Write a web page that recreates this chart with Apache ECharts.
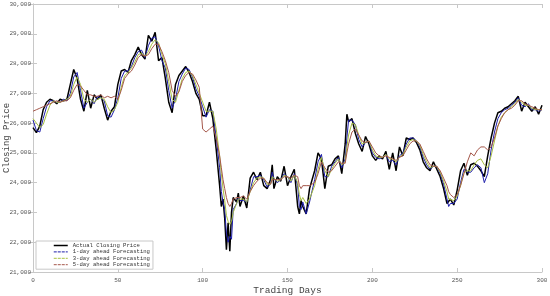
<!DOCTYPE html>
<html><head><meta charset="utf-8">
<script src="https://cdn.jsdelivr.net/npm/echarts@6/dist/echarts.min.js"></script>
<style>html,body{margin:0;padding:0;background:#fff}#c{width:550px;height:296px}</style>
</head><body><div id="c"></div>
<script>
const seriesNames = ['Actual Closing Price','1-day ahead Forecasting','3-day ahead Forecasting','5-day ahead Forecasting'];
const days = [0,2,4,6,8,10,12,14,16,18, 20,22,24,26,28,30,32,34,36,38, 40,42,44,46,48,50,52,54,56,58, 60,62,64,66,68,70,72,74,76,78, 80,82,84,86,88,90,92,94,96,98, 100,102,104,106,108,110,111,112,113,114, 115,116,117,118,120,121,122,124,126,128, 130,132,134,136,138,140,141,142,144,146, 148,150,152,154,156,157,158,159,161,163, 166,168,170,172,174,176,178,180,182,184, 185,186,188,190,192,194,196,198,200,202, 204,206,208,210,212,214,216,218,220,222, 224,226,228,230,232,234,236,238,240,242, 244,245,246,248,250,252,254,256,258,260, 262,264,266,268,270,272,274,276,278,280, 282,284,286,288,290,292,294,296,298,300];
const actual = [25850,25680,25900,26450,26700,26800,26750,26650,26800,26750, 26800,27300,27800,27500,26800,26400,27100,26500,26950,26800, 26950,26500,26100,26400,26550,27300,27750,27800,27700,28100, 28300,28550,28300,28150,28950,28750,29050,28100,28200,27500, 26700,26350,27300,27600,27750,27900,27700,27400,27000,26800, 26250,26250,26700,26150,25100,23900,23200,23450,22800,21750, 22650,21700,23000,23500,23350,23650,23200,23550,23150,24150, 24350,24100,24350,23900,23800,24100,24600,23800,24200,24050, 24550,23900,24200,24450,23200,22950,23400,23200,22950,23800, 24400,25000,24800,23800,24550,24600,24800,24900,24300,25300, 26300,26050,26150,25650,25300,25050,25550,25300,24900,24750, 24900,24800,25050,24450,25000,24400,25200,24900,25500,25450, 25500,25350,25100,24700,24500,24400,24700,24450,24200,23800, 23300,23250,23450,23250,23750,24400,24650,24250,24600,24650, 24550,24400,24200,24900,25500,26000,26350,26400,26500,26550, 26650,26750,26900,26400,26700,26550,26400,26550,26300,26600];
const oneDay = [26100,25750,25700,26150,26550,26750,26750,26700,26700,26800, 26750,27000,27550,27700,27100,26500,26700,26800,26650,26900, 26850,26750,26250,26200,26450,26850,27500,27750,27750,27900, 28200,28400,28450,28200,28600,28850,28900,28600,28100,27850, 27100,26500,26800,27400,27650,27850,27800,27550,27150,26900, 26550,26200,26450,26400,25500,24500,23700,23350,23100,22300, 22000,22200,22100,23100,23300,23500,23400,23400,23350,23750, 24200,24200,24250,24100,23850,23950,24350,24150,24000,24100, 24300,24200,24000,24300,23900,23200,23100,23350,22950,23350, 24100,24700,24950,24200,24200,24550,24700,24850,24500,24800, 25500,26100,26100,25950,25450,25200,25350,25400,25000,24850, 24800,24850,24950,24700,24750,24600,24900,25000,25300,25500, 25500,25400,25200,24850,24600,24450,24550,24550,24300,23950, 23450,23200,23300,23300,23450,24000,24450,24350,24350,24500, 24600,24500,24000,24300,25100,25700,26150,26350,26450,26500, 26600,26700,26850,26600,26550,26650,26450,26450,26400,26450];
const threeDay = [26150,26000,25850,25950,26300,26600,26750,26700,26700,26750, 26800,26900,27300,27550,27300,26800,26700,26800,26700,26800, 26850,26800,26550,26350,26450,26700,27200,27600,27700,27850, 28050,28300,28350,28250,28400,28650,28800,28700,28300,28000, 27400,26800,26700,27100,27500,27700,27750,27600,27300,27000, 26700,26400,26400,26400,25800,24900,24300,23800,23400,22900, 22700,22600,22700,23000,23300,23450,23400,23450,23350,23700, 24000,24150,24200,24150,23950,23950,24200,24200,24050,24100, 24250,24200,24050,24250,24000,23600,23400,23500,23300,23450, 23900,24450,24850,24400,24200,24450,24650,24800,24600,24700, 25200,25600,26000,25950,25600,25300,25350,25400,25100,24900, 24850,24850,24950,24800,24800,24700,24850,24950,25200,25400, 25450,25400,25250,24950,24700,24500,24550,24550,24350,24050, 23700,23450,23450,23400,23550,23900,24350,24400,24400,24600, 24750,24800,24600,24500,24900,25400,25900,26200,26350,26450, 26550,26650,26800,26700,26600,26600,26500,26450,26450,26450];
const fiveDay = [26400,26450,26500,26550,26600,26650,26700,26750,26700,26750, 26750,26850,27100,27300,27250,27100,26950,26950,26900,26900, 26950,26850,26900,26850,26900,26800,27100,27500,27650,27750, 27950,28200,28300,28250,28300,28500,28650,28650,28400,28100, 27700,27100,26900,27050,27400,27600,27700,27650,27450,27200, 25800,25700,25800,25900,25500,24900,24500,24100,23800,23500, 23300,23200,23300,23450,23500,23500,23500,23550,23450,23700, 23900,24050,24150,24150,24000,23950,24100,24150,24100,24100, 24200,24200,24150,24250,24200,23900,23800,23900,23900,23900, 24000,24300,24700,24500,24350,24400,24550,24700,24650,24650, 25000,25300,25700,25800,25600,25400,25350,25400,25200,25000, 24900,24850,24900,24850,24800,24750,24850,24900,25100,25300, 25400,25400,25300,25050,24800,24600,24550,24550,24400,24150, 23900,23700,23600,23500,23600,23900,24300,24700,25000,24900, 25100,25200,25200,25100,25200,25500,25900,26150,26350,26450, 26500,26600,26750,26750,26650,26600,26550,26500,26450,26450];
const colors = ['#000000','#1c1caa','#a8c040','#a5574a'];
const widths = [1.5,1,1,1];
const legendDash = ['solid',[3,1],[3,1],[3,1]];
const allVals = [actual, oneDay, threeDay, fiveDay];

const chart = echarts.init(document.getElementById('c'), null, {renderer:'canvas'});
const mono = 'Liberation Mono, DejaVu Sans Mono, monospace';
const lineCol = '#c8c8c8';
const xBase = {type:'value', min:0, max:300, interval:50};
const yBase = {type:'value', min:21000, max:30000, interval:1000};
chart.setOption({
  animation:false,
  backgroundColor:'#fff',
  grid:{left:33, right:8, top:4, bottom:24, containLabel:false, outerBoundsMode:'none'},
  legend:{
    orient:'vertical', left:36, top:241,
    padding:[1.5,3,1.5,17], itemGap:0.4, itemWidth:14, itemHeight:7,
    backgroundColor:'#fff', borderColor:'#c8c8c8', borderWidth:1,
    textStyle:{fontFamily:mono, fontSize:5.6, color:'#333'},
    data: seriesNames.map((n,i)=>({name:n,
      lineStyle:{type:legendDash[i], width:i===0?1.5:1},
      itemStyle:{color:'rgba(0,0,0,0)', borderWidth:0, opacity:0}}))
  },
  xAxis:[
    Object.assign({}, xBase, {position:'bottom', name:'Trading Days', nameLocation:'middle', nameGap:13, nameMoveOverlap:false,
      nameTextStyle:{fontFamily:mono, fontSize:9.5, color:'#444'},
      axisLine:{lineStyle:{color:lineCol}}, axisTick:{inside:true, length:4, lineStyle:{color:lineCol}},
      axisLabel:{fontFamily:mono, fontSize:6, color:'#555', margin:5}, splitLine:{show:false}}),
    Object.assign({}, xBase, {position:'top', axisLine:{lineStyle:{color:lineCol}},
      axisTick:{inside:true, length:4, lineStyle:{color:lineCol}}, axisLabel:{show:false}, splitLine:{show:false}})
  ],
  yAxis:[
    Object.assign({}, yBase, {position:'left', name:'Closing Price', nameLocation:'middle', nameGap:22, nameMoveOverlap:false,
      nameTextStyle:{fontFamily:mono, fontSize:9, color:'#444'},
      axisLine:{show:true, lineStyle:{color:lineCol}}, axisTick:{show:true, inside:true, length:4, lineStyle:{color:lineCol}},
      axisLabel:{fontFamily:mono, fontSize:6, color:'#555', margin:2,
        formatter:v=>v.toLocaleString('en-US')}, splitLine:{show:false}}),
    Object.assign({}, yBase, {position:'right', axisLine:{show:true, lineStyle:{color:lineCol}},
      axisTick:{show:true, inside:true, length:4, lineStyle:{color:lineCol}}, axisLabel:{show:false}, splitLine:{show:false}})
  ],
  series: seriesNames.map((n,i)=>({
    name:n, type:'line', xAxisIndex:0, yAxisIndex:0, symbol:'none', showSymbol:false,
    data: days.map((d,k)=>[d, allVals[i][k]]),
    lineStyle:{color:colors[i], width:widths[i], type:'solid'},
    itemStyle:{color:colors[i]},
    z: i===0 ? 2 : 3
  }))
});
</script></body></html>
